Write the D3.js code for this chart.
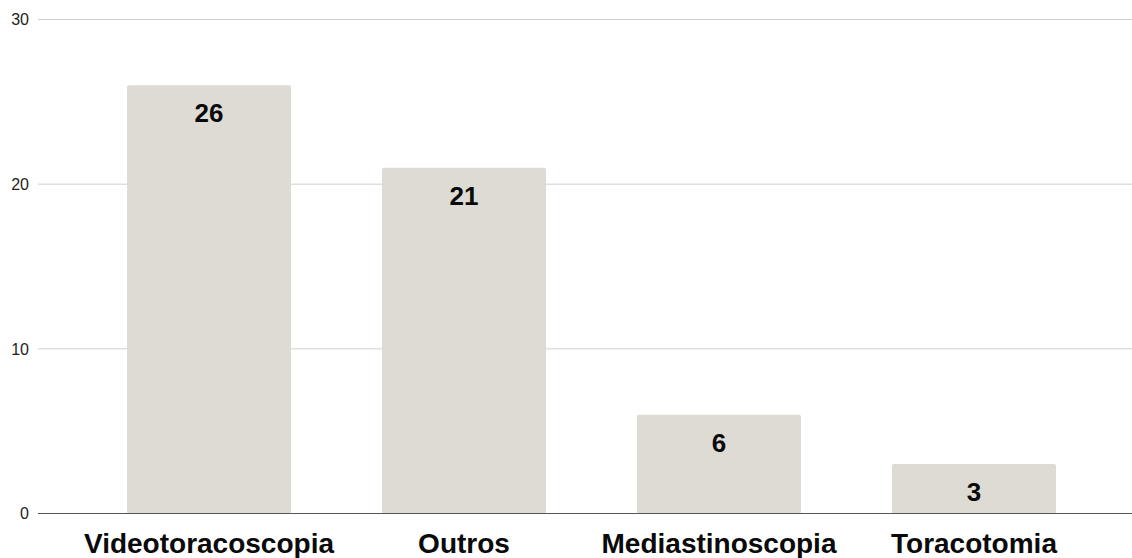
<!DOCTYPE html>
<html>
<head>
<meta charset="utf-8">
<script src="https://cdn.jsdelivr.net/npm/d3@7/dist/d3.min.js"></script>
<style>
  html, body { margin: 0; padding: 0; background: #fff; }
  svg { display: block; }
</style>
</head>
<body>
<svg id="chart" width="1132" height="558"></svg>
<script>
// Procedure counts by surgical approach
const categories = ["Videotoracoscopia", "Outros", "Mediastinoscopia", "Toracotomia"];
const values = [26, 21, 6, 3];
const yTicks = [0, 10, 20, 30];

const width = 1132, height = 558;
const font = "'Liberation Sans', Arial, sans-serif";
const svg = d3.select("#chart");

const y = d3.scaleLinear().domain([0, 30]).range([513.5, 19.5]);
const x = d3.scaleBand().domain(categories).range([81.5, 1101.5]).paddingInner(0.357).paddingOuter(0.1785);

// horizontal gridlines
svg.append("g").selectAll("line")
  .data(yTicks.filter(d => d !== 0))
  .join("line")
  .attr("x1", 38).attr("x2", width)
  .attr("y1", d => y(d)).attr("y2", d => y(d))
  .attr("stroke", "#cfcfcf").attr("stroke-width", 1);

// y tick labels
svg.append("g").selectAll("text")
  .data(yTicks)
  .join("text")
  .attr("x", 29).attr("y", d => y(d))
  .attr("dy", "0.36em")
  .attr("text-anchor", "end")
  .style("font-family", font)
  .attr("font-size", 16)
  .attr("fill", "#222")
  .text(d => d);

// bars
svg.append("g").selectAll("rect")
  .data(values)
  .join("rect")
  .attr("x", (d, i) => x(categories[i]))
  .attr("y", d => y(d))
  .attr("width", x.bandwidth())
  .attr("height", d => y(0) - y(d))
  .attr("rx", 2)
  .attr("fill", "#dedbd5");

// baseline
svg.append("line")
  .attr("x1", 38).attr("x2", width)
  .attr("y1", y(0)).attr("y2", y(0))
  .attr("stroke", "#555").attr("stroke-width", 1.2);

// value labels inside bars
svg.append("g").selectAll("text")
  .data(values)
  .join("text")
  .attr("x", (d, i) => x(categories[i]) + x.bandwidth() / 2)
  .attr("y", d => y(d) + 37)
  .attr("text-anchor", "middle")
  .style("font-family", font)
  .attr("font-weight", "bold")
  .attr("font-size", 26)
  .attr("fill", "#0a0a0a")
  .text(d => d);

// category labels
svg.append("g").selectAll("text")
  .data(categories)
  .join("text")
  .attr("x", d => x(d) + x.bandwidth() / 2)
  .attr("y", 553)
  .attr("text-anchor", "middle")
  .style("font-family", font)
  .attr("font-weight", "bold")
  .attr("font-size", 28)
  .attr("fill", "#0a0a0a")
  .text(d => d);
</script>
</body>
</html>
